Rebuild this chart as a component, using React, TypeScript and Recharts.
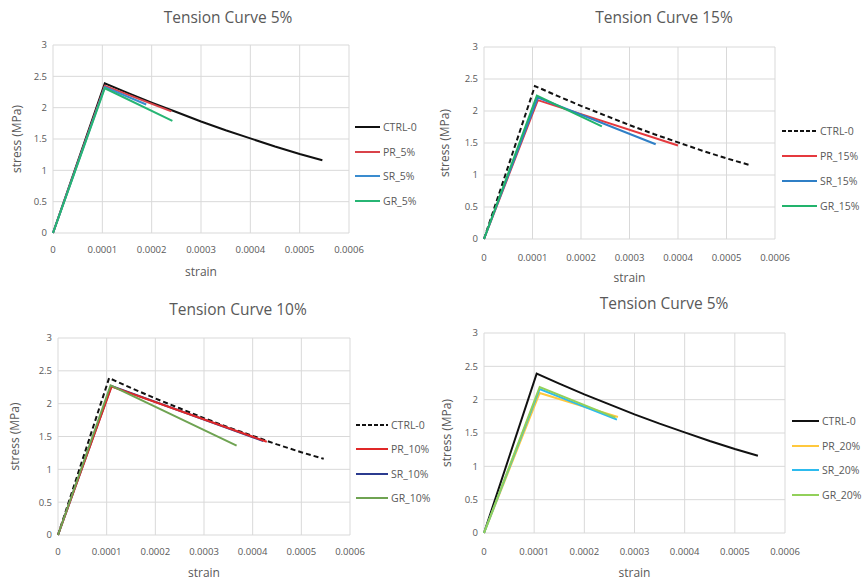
import { CartesianGrid, Label, Line, LineChart, XAxis, YAxis } from 'recharts';

const STRAIN_TICKS = [0, 0.0001, 0.0002, 0.0003, 0.0004, 0.0005, 0.0006];
const STRESS_TICKS = [0, 0.5, 1, 1.5, 2, 2.5, 3];

// control mix, same in every panel
const CTRL_STRAIN = [0, 0.000105, 0.00015, 0.0002, 0.00025, 0.0003, 0.00035, 0.0004, 0.00045, 0.0005, 0.000546];
const CTRL_STRESS = [0, 2.39, 2.24, 2.08, 1.93, 1.78, 1.64, 1.51, 1.38, 1.26, 1.16];

// 5%
const PR5_STRAIN = [0, 0.000105, 0.00024];
const PR5_STRESS = [0, 2.35, 1.94];
const SR5_STRAIN = [0, 0.000105, 0.000189];
const SR5_STRESS = [0, 2.33, 2.05];
const GR5_STRAIN = [0, 0.000105, 0.000242];
const GR5_STRESS = [0, 2.31, 1.79];

// 15%
const PR15_STRAIN = [0, 0.000111, 0.0004];
const PR15_STRESS = [0, 2.17, 1.46];
const SR15_STRAIN = [0, 0.000111, 0.000354];
const SR15_STRESS = [0, 2.21, 1.48];
const GR15_STRAIN = [0, 0.000109, 0.000243];
const GR15_STRESS = [0, 2.24, 1.76];

// 10%
const PR10_STRAIN = [0, 0.00011, 0.000429];
const PR10_STRESS = [0, 2.26, 1.42];
const SR10_STRAIN = [0, 0.00011, 0.000422];
const SR10_STRESS = [0, 2.27, 1.43];
const GR10_STRAIN = [0, 0.000108, 0.000367];
const GR10_STRESS = [0, 2.28, 1.36];

// 20%
const PR20_STRAIN = [0, 0.000111, 0.000267];
const PR20_STRESS = [0, 2.1, 1.74];
const SR20_STRAIN = [0, 0.000111, 0.000265];
const SR20_STRESS = [0, 2.16, 1.7];
const GR20_STRAIN = [0, 0.000111, 0.000262];
const GR20_STRESS = [0, 2.19, 1.73];

const TEXT = '#595959';
const GRID = '#d9d9d9';
const FONT = '"Open Sans", sans-serif';

type Series = { name: string; strain: number[]; stress: number[]; color: string; dash?: string };

type Panel = {
  title: string;
  x: number;
  y: number;
  plot: { left: number; right: number; top: number; bottom: number };
  titleX: number;
  titleY: number;
  tickGap: number;
  strainY: number;
  stressX: number;
  legend: { x: number; y: number; step: number; line: number };
  series: Series[];
};

const toPoints = (xs: number[], ys: number[]) => xs.map((x, i) => ({ strain: x, stress: ys[i] }));

const PANELS: Panel[] = [
  {
    title: 'Tension Curve 5%',
    x: 0,
    y: 0,
    plot: { left: 53, right: 349, top: 45, bottom: 233 },
    titleX: 228,
    titleY: 17,
    tickGap: 17,
    strainY: 272,
    stressX: 17,
    legend: { x: 355, y: 127, step: 24.7, line: 25 },
    series: [
      { name: 'CTRL-0', strain: CTRL_STRAIN, stress: CTRL_STRESS, color: '#111111' },
      { name: 'PR_5%', strain: PR5_STRAIN, stress: PR5_STRESS, color: '#d9434a' },
      { name: 'SR_5%', strain: SR5_STRAIN, stress: SR5_STRESS, color: '#3a8ccf' },
      { name: 'GR_5%', strain: GR5_STRAIN, stress: GR5_STRESS, color: '#27b574' },
    ],
  },
  {
    title: 'Tension Curve 15%',
    x: 432,
    y: 0,
    plot: { left: 52, right: 343, top: 47, bottom: 239 },
    titleX: 232,
    titleY: 17,
    tickGap: 19,
    strainY: 278,
    stressX: 13,
    legend: { x: 350, y: 131, step: 25, line: 35 },
    series: [
      { name: 'CTRL-0', strain: CTRL_STRAIN, stress: CTRL_STRESS, color: '#111111', dash: '5 3' },
      { name: 'PR_15%', strain: PR15_STRAIN, stress: PR15_STRESS, color: '#e5393e' },
      { name: 'SR_15%', strain: SR15_STRAIN, stress: SR15_STRESS, color: '#2f7fc6' },
      { name: 'GR_15%', strain: GR15_STRAIN, stress: GR15_STRESS, color: '#22b36c' },
    ],
  },
  {
    title: 'Tension Curve 10%',
    x: 0,
    y: 290,
    plot: { left: 58, right: 350, top: 48, bottom: 245 },
    titleX: 238,
    titleY: 19,
    tickGap: 17,
    strainY: 283,
    stressX: 15,
    legend: { x: 356, y: 135, step: 24.3, line: 32 },
    series: [
      { name: 'CTRL-0', strain: CTRL_STRAIN, stress: CTRL_STRESS, color: '#111111', dash: '5 3' },
      { name: 'SR_10%', strain: SR10_STRAIN, stress: SR10_STRESS, color: '#2b3b8f' },
      { name: 'PR_10%', strain: PR10_STRAIN, stress: PR10_STRESS, color: '#e02828' },
      { name: 'GR_10%', strain: GR10_STRAIN, stress: GR10_STRESS, color: '#6fa352' },
    ],
  },
  {
    title: 'Tension Curve 5%',
    x: 432,
    y: 290,
    plot: { left: 52, right: 353, top: 43, bottom: 243 },
    titleX: 232,
    titleY: 13,
    tickGap: 19,
    strainY: 283,
    stressX: 15,
    legend: { x: 360, y: 131, step: 24.7, line: 27 },
    series: [
      { name: 'CTRL-0', strain: CTRL_STRAIN, stress: CTRL_STRESS, color: '#111111' },
      { name: 'PR_20%', strain: PR20_STRAIN, stress: PR20_STRESS, color: '#ffc83d' },
      { name: 'SR_20%', strain: SR20_STRAIN, stress: SR20_STRESS, color: '#2dbbee' },
      { name: 'GR_20%', strain: GR20_STRAIN, stress: GR20_STRESS, color: '#92d05a' },
    ],
  },
];

const LEGEND_ORDER = ['CTRL', 'PR', 'SR', 'GR'];

function TensionPanel({ panel }: { panel: Panel }) {
  const W = 432;
  const H = 291;
  const xAxisH = 50;
  const { left, right, top, bottom } = panel.plot;
  const legendItems = [...panel.series].sort(
    (a, b) => LEGEND_ORDER.indexOf(a.name.split(/[-_]/)[0]) - LEGEND_ORDER.indexOf(b.name.split(/[-_]/)[0])
  );

  return (
    <div
      style={{
        position: 'absolute',
        left: panel.x,
        top: panel.y,
        width: W,
        height: H,
        overflow: 'hidden',
        background: '#fff',
        fontFamily: FONT,
      }}
    >
      <div
        style={{
          position: 'absolute',
          left: panel.titleX - 150,
          width: 300,
          top: panel.titleY - 11,
          lineHeight: '22px',
          textAlign: 'center',
          fontSize: 15.5,
          color: TEXT,
        }}
      >
        {panel.title}
      </div>
      <LineChart
        width={W}
        height={H}
        margin={{ top, right: W - right, left: 0, bottom: H - bottom - xAxisH }}
        style={{ fontFamily: FONT }}
      >
        <CartesianGrid stroke={GRID} />
        <XAxis
          type="number"
          dataKey="strain"
          domain={[0, 0.0006]}
          ticks={STRAIN_TICKS}
          interval={0}
          height={xAxisH}
          tickSize={0}
          tickMargin={panel.tickGap - 4}
          axisLine={false}
          tickLine={false}
          tick={{ fontSize: 9.5, fill: TEXT }}
        >
          <Label
            value="strain"
            position="insideBottom"
            offset={bottom + xAxisH - (panel.strainY + 4)}
            style={{ fontSize: 12, fill: TEXT }}
          />
        </XAxis>
        <YAxis
          type="number"
          domain={[0, 3]}
          ticks={STRESS_TICKS}
          interval={0}
          width={left}
          tickSize={0}
          tickMargin={6}
          axisLine={false}
          tickLine={false}
          tick={{ fontSize: 9.5, fill: TEXT }}
        >
          <Label
            value="stress (MPa)"
            angle={-90}
            position="insideLeft"
            offset={panel.stressX}
            style={{ fontSize: 12, fill: TEXT, textAnchor: 'middle' }}
          />
        </YAxis>
        {panel.series.map((s) => (
          <Line
            key={s.name}
            data={toPoints(s.strain, s.stress)}
            dataKey="stress"
            name={s.name}
            type="linear"
            stroke={s.color}
            strokeWidth={2}
            strokeDasharray={s.dash}
            dot={false}
            activeDot={false}
            isAnimationActive={false}
          />
        ))}
      </LineChart>
      {legendItems.map((s, i) => (
        <div
          key={s.name}
          style={{
            position: 'absolute',
            left: panel.legend.x,
            top: panel.legend.y + i * panel.legend.step - 8,
            height: 16,
            display: 'flex',
            alignItems: 'center',
            whiteSpace: 'nowrap',
            fontSize: 10.5,
            color: TEXT,
          }}
        >
          <svg width={panel.legend.line + 2} height={4} style={{ marginRight: 1 }}>
            <line
              x1={0}
              y1={2}
              x2={panel.legend.line}
              y2={2}
              stroke={s.color}
              strokeWidth={2}
              strokeDasharray={s.dash ? '4 2' : undefined}
            />
          </svg>
          {s.name}
        </div>
      ))}
    </div>
  );
}

export default function App() {
  return (
    <div style={{ position: 'absolute', left: 0, top: 0, width: 864, height: 581, background: '#fff' }}>
      {PANELS.map((p, i) => (
        <TensionPanel key={i} panel={p} />
      ))}
    </div>
  );
}
